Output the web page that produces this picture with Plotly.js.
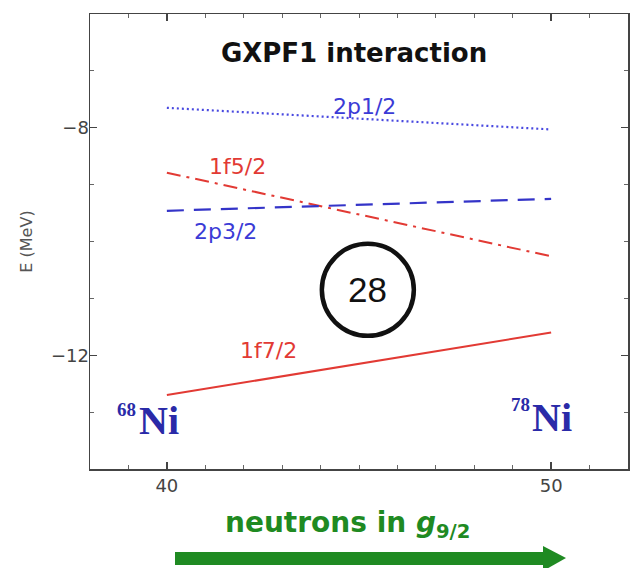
<!DOCTYPE html>
<html>
<head>
<meta charset="utf-8">
<script src="https://cdn.plot.ly/plotly-3.0.1.min.js"></script>
<style>html,body{margin:0;padding:0;background:#fff;}</style>
</head>
<body>
<div id="chart" style="width:630px;height:568px;"></div>
<script>
// ---- data ----
const neutronN = [40, 50];                 // N at 68Ni and 78Ni
const e2p12 = [-7.65, -8.03];              // 2p1/2 (MeV)
const e1f52 = [-8.79, -10.26];             // 1f5/2
const e2p32 = [-9.46, -9.25];              // 2p3/2
const e1f72 = [-12.70, -11.60];            // 1f7/2
const orbitalNames = ['2p1/2', '1f5/2', '2p3/2', '1f7/2'];
const xTickVals = [40, 50];
const yTickVals = [-12, -8];
const nucleiMass = ['68', '78'];
const shellGap = '28';

const blue = '#3b3bd6', red = '#e23a34', niBlue = '#2a2aa8', green = '#1f8a22';
const tickFont = {family: 'DejaVu Sans', size: 18, color: '#444'};

function line(y, name, color, dash, width) {
  return {x: neutronN, y: y, name: name, type: 'scatter', mode: 'lines',
          line: {color: color, dash: dash, width: width}, showlegend: false, hoverinfo: 'skip'};
}
const traces = [
  line(e2p12, orbitalNames[0], '#4848e0', '2px,3px', 2.2),
  line(e1f52, orbitalNames[1], red, '14px,6px,3px,6px', 2),
  line(e2p32, orbitalNames[2], '#3434c8', '17px,10px', 2.2),
  line(e1f72, orbitalNames[3], red, 'solid', 2)
];

const lblFont = (c) => ({family: 'DejaVu Sans', size: 22, color: c});
const supFont = {family: 'Liberation Serif', size: 19, color: niBlue, weight: 700};
const niFont = {family: 'Liberation Serif', size: 40, color: niBlue, weight: 700};
const annotations = [
  {x: 45.13, y: -7.63, text: orbitalNames[0], font: lblFont(blue)},
  {x: 41.84, y: -8.69, text: orbitalNames[1], font: lblFont(red)},
  {x: 41.53, y: -9.83, text: orbitalNames[2], font: lblFont(blue)},
  {x: 42.64, y: -11.91, text: orbitalNames[3], font: lblFont(red)},
  {x: 45.23, y: -10.85, text: shellGap, font: {family: 'Liberation Sans', size: 35, color: '#111'}},
  {x: 39.26, y: -12.945, text: nucleiMass[0], font: supFont, xanchor: 'right'},
  {x: 39.22, y: -13.15, text: 'Ni', font: niFont, xanchor: 'left'},
  {x: 49.50, y: -12.866, text: nucleiMass[1], font: supFont, xanchor: 'right'},
  {x: 49.46, y: -13.09, text: 'Ni', font: niFont, xanchor: 'left'},
  {xref: 'paper', yref: 'paper', x: 0.4777, y: -0.122, text: 'neutrons in <i>g</i><sub>9/2</sub>',
   font: {family: 'DejaVu Sans', size: 28, color: green, weight: 700}}
].map(a => Object.assign({xref: 'x', yref: 'y', showarrow: false, xanchor: 'center', yanchor: 'middle'}, a));

// paper-coordinate helpers for the green arrow (plot area: x 90..628, y 14..469 px)
const px = (v) => (v - 90) / 538, py = (v) => (469 - v) / 455;
const shapes = [
  {type: 'circle', xref: 'x', yref: 'y', xsizemode: 'pixel', ysizemode: 'pixel',
   xanchor: 45.23, yanchor: -10.85, x0: -46, x1: 46, y0: -46, y1: 46,
   line: {color: '#111', width: 4.5}},
  {type: 'rect', xref: 'paper', yref: 'paper', x0: px(175), x1: px(546), y0: py(552), y1: py(565),
   fillcolor: green, line: {width: 0}},
  {type: 'path', xref: 'paper', yref: 'paper',
   path: `M ${px(543)} ${py(546)} L ${px(566)} ${py(558)} L ${px(543)} ${py(571)} Z`,
   fillcolor: green, line: {width: 0}}
];

const axisCommon = {
  showgrid: false, zeroline: false, showline: true, linecolor: '#444', linewidth: 1.5,
  mirror: 'ticks', ticks: 'inside', ticklen: 7, tickwidth: 1.3, tickcolor: '#444',
  tickfont: tickFont, minor: {dtick: 1, ticks: 'inside', ticklen: 4, tickcolor: '#666', tickwidth: 1}
};

const layout = {
  width: 630, height: 568,
  margin: {l: 90, r: 2, t: 14, b: 99},
  paper_bgcolor: '#fff', plot_bgcolor: '#fff',
  title: {text: 'GXPF1 interaction', x: 0.562, xanchor: 'center', y: 0.9076, yanchor: 'middle',
          xref: 'container', yref: 'container',
          font: {family: 'DejaVu Sans', size: 26, weight: 700, color: '#111'}},
  xaxis: Object.assign({}, axisCommon, {range: [38, 52], tickvals: xTickVals, ticktext: xTickVals.map(String)}),
  yaxis: Object.assign({}, axisCommon, {range: [-14, -6], tickvals: yTickVals, ticklabelstandoff: -4,
          title: {text: 'E (MeV)', font: {family: 'DejaVu Sans', size: 16, color: '#555'}, standoff: 14}}),
  annotations: annotations,
  shapes: shapes
};

Plotly.newPlot('chart', traces, layout, {staticPlot: true, displayModeBar: false});
</script>
</body>
</html>
